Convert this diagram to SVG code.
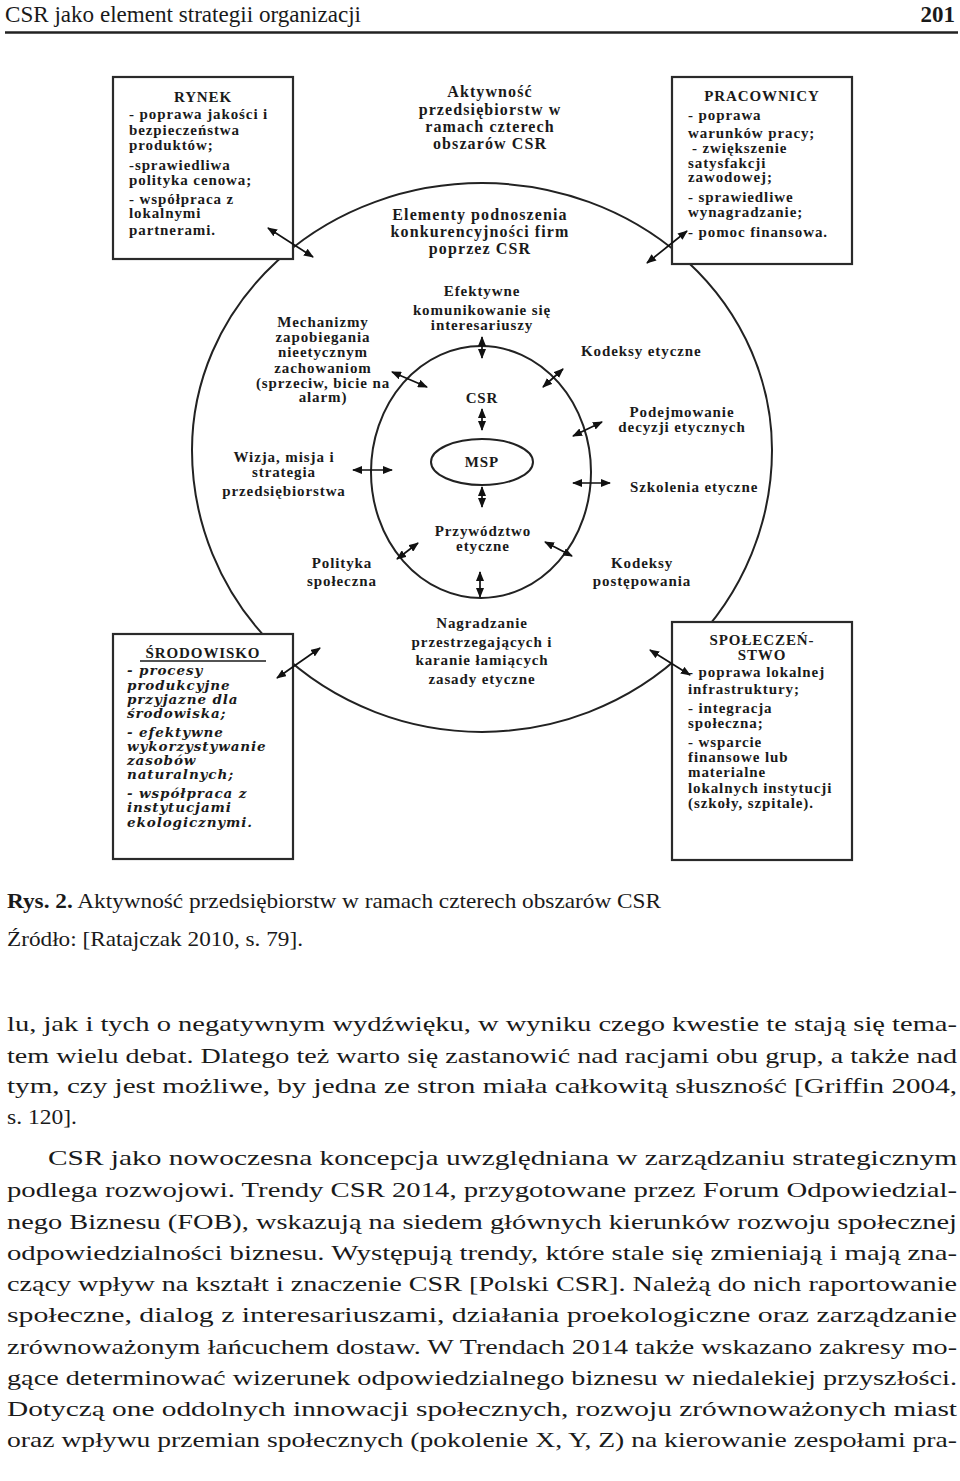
<svg xmlns="http://www.w3.org/2000/svg" width="960" height="1481" viewBox="0 0 960 1481">
<style>
.b{font-family:"Liberation Serif",serif;font-weight:bold;font-size:15px;letter-spacing:0.9px;fill:#1a1a1a}
.h{font-family:"Liberation Serif",serif;font-weight:bold;font-size:16px;letter-spacing:1.1px;fill:#1a1a1a}
.i{font-family:"DejaVu Serif",serif;font-weight:bold;font-style:italic;font-size:13.5px;letter-spacing:0.9px;fill:#1a1a1a}
.m{text-anchor:middle}
.box{fill:#fff;stroke:#2a2a2a;stroke-width:2.2}
.ring{fill:none;stroke:#222;stroke-width:2}
.arr{stroke:#111;stroke-width:1.7;fill:none;marker-start:url(#ah);marker-end:url(#ah)}
.body{font-family:"Liberation Serif",serif;font-size:22px;fill:#1a1a1a}
</style>
<defs>
<marker id="ah" viewBox="0 0 10 8" refX="9" refY="4" markerWidth="10" markerHeight="8" markerUnits="userSpaceOnUse" orient="auto-start-reverse">
<path d="M0,0 L10,4 L0,8 z" fill="#111"/>
</marker>
</defs>
<rect width="960" height="1481" fill="#fff"/>

<g id="header">
<text x="5" y="22" font-family="Liberation Serif, serif" font-size="23" fill="#1a1a1a" textLength="356" lengthAdjust="spacingAndGlyphs">CSR jako element strategii organizacji</text>
<text x="955" y="22" font-family="Liberation Serif, serif" font-size="23" font-weight="bold" text-anchor="end" fill="#1a1a1a">201</text>
<line x1="5" y1="32.5" x2="958" y2="32.5" stroke="#222" stroke-width="2.5"/>
</g>

<g id="rings">
<path class="ring" d="M192,450 A290,267 0 0 1 772,450 A290,282 0 0 1 192,450 Z"/>
<ellipse class="ring" cx="481" cy="472" rx="110" ry="126"/>
<ellipse class="ring" cx="482" cy="462" rx="51" ry="23"/>
</g>

<g id="title">
<text class="h m" x="490" y="97" font-size="17">Aktywność</text>
<text class="h m" x="490" y="115" font-size="17">przedsiębiorstw w</text>
<text class="h m" x="490" y="132" font-size="17">ramach czterech</text>
<text class="h m" x="490" y="149" font-size="17">obszarów CSR</text>
</g>

<g id="elementy">
<text class="h m" x="480" y="220">Elementy podnoszenia</text>
<text class="h m" x="480" y="237">konkurencyjności firm</text>
<text class="h m" x="480" y="254">poprzez CSR</text>
</g>

<g id="rynek">
<rect class="box" x="113" y="77" width="180" height="182"/>
<text class="b m" x="203" y="102">RYNEK</text>
<text class="b" x="129" y="119">- poprawa jakości i</text>
<text class="b" x="129" y="135">bezpieczeństwa</text>
<text class="b" x="129" y="150">produktów;</text>
<text class="b" x="129" y="170">-sprawiedliwa</text>
<text class="b" x="129" y="185">polityka cenowa;</text>
<text class="b" x="129" y="204">- współpraca z</text>
<text class="b" x="129" y="218">lokalnymi</text>
<text class="b" x="129" y="235">partnerami.</text>
</g>

<g id="pracownicy">
<rect class="box" x="672" y="77" width="180" height="187"/>
<text class="b m" x="762" y="101">PRACOWNICY</text>
<text class="b" x="688" y="120">- poprawa</text>
<text class="b" x="688" y="138">warunków pracy;</text>
<text class="b" x="692" y="153">- zwiększenie</text>
<text class="b" x="688" y="168">satysfakcji</text>
<text class="b" x="688" y="182">zawodowej;</text>
<text class="b" x="688" y="202">- sprawiedliwe</text>
<text class="b" x="688" y="217">wynagradzanie;</text>
<text class="b" x="688" y="237">- pomoc finansowa.</text>
</g>

<g id="srodowisko">
<rect class="box" x="113" y="634" width="180" height="225"/>
<text class="b m" x="203" y="658" font-size="15.5" letter-spacing="1.3">ŚRODOWISKO</text>
<line x1="140" y1="661" x2="266" y2="661" stroke="#1a1a1a" stroke-width="1.6"/>
<text class="i" x="127" y="675">- procesy</text>
<text class="i" x="127" y="690">produkcyjne</text>
<text class="i" x="127" y="704">przyjazne dla</text>
<text class="i" x="127" y="718">środowiska;</text>
<text class="i" x="127" y="737">- efektywne</text>
<text class="i" x="127" y="751">wykorzystywanie</text>
<text class="i" x="127" y="765">zasobów</text>
<text class="i" x="127" y="779">naturalnych;</text>
<text class="i" x="127" y="798">- współpraca z</text>
<text class="i" x="127" y="812">instytucjami</text>
<text class="i" x="127" y="827">ekologicznymi.</text>
</g>

<g id="spoleczenstwo">
<rect class="box" x="672" y="622" width="180" height="238"/>
<text class="b m" x="762" y="645">SPOŁECZEŃ-</text>
<text class="b m" x="762" y="660">STWO</text>
<text class="b" x="688" y="677">- poprawa lokalnej</text>
<text class="b" x="688" y="694">infrastruktury;</text>
<text class="b" x="688" y="713">- integracja</text>
<text class="b" x="688" y="728">społeczna;</text>
<text class="b" x="688" y="747">- wsparcie</text>
<text class="b" x="688" y="762">finansowe lub</text>
<text class="b" x="688" y="777">materialne</text>
<text class="b" x="688" y="793">lokalnych instytucji</text>
<text class="b" x="688" y="808">(szkoły, szpitale).</text>
</g>

<g id="efektywne">
<text class="b m" x="482" y="296">Efektywne</text>
<text class="b m" x="482" y="315">komunikowanie się</text>
<text class="b m" x="482" y="330">interesariuszy</text>
</g>
<g id="mechanizmy">
<text class="b m" x="323" y="327">Mechanizmy</text>
<text class="b m" x="323" y="342">zapobiegania</text>
<text class="b m" x="323" y="357">nieetycznym</text>
<text class="b m" x="323" y="373">zachowaniom</text>
<text class="b m" x="323" y="388">(sprzeciw, bicie na</text>
<text class="b m" x="323" y="402">alarm)</text>
</g>
<g id="kodeksy-etyczne"><text class="b" x="581" y="356">Kodeksy etyczne</text></g>
<g id="podejmowanie">
<text class="b m" x="682" y="417">Podejmowanie</text>
<text class="b m" x="682" y="432">decyzji etycznych</text>
</g>
<g id="szkolenia"><text class="b" x="630" y="492">Szkolenia etyczne</text></g>
<g id="csr"><text class="b m" x="482" y="403">CSR</text></g>
<g id="msp"><text class="b m" x="482" y="467">MSP</text></g>
<g id="wizja">
<text class="b m" x="284" y="462">Wizja, misja i</text>
<text class="b m" x="284" y="477">strategia</text>
<text class="b m" x="284" y="496">przedsiębiorstwa</text>
</g>
<g id="przywodztwo">
<text class="b m" x="483" y="536">Przywództwo</text>
<text class="b m" x="483" y="551">etyczne</text>
</g>
<g id="polityka">
<text class="b m" x="342" y="568">Polityka</text>
<text class="b m" x="342" y="586">społeczna</text>
</g>
<g id="kodeksy-postepowania">
<text class="b m" x="642" y="568">Kodeksy</text>
<text class="b m" x="642" y="586">postępowania</text>
</g>
<g id="nagradzanie">
<text class="b m" x="482" y="628">Nagradzanie</text>
<text class="b m" x="482" y="647">przestrzegających i</text>
<text class="b m" x="482" y="665">karanie łamiących</text>
<text class="b m" x="482" y="684">zasady etyczne</text>
</g>

<g id="connectors">
<line class="arr" x1="268" y1="228" x2="313" y2="257"/>
<line class="arr" x1="647" y1="263" x2="687" y2="231"/>
<line class="arr" x1="277" y1="678" x2="320" y2="648"/>
<line class="arr" x1="650" y1="650" x2="690" y2="675"/>
<line class="arr" x1="482" y1="337" x2="482" y2="358"/>
<line class="arr" x1="392" y1="372" x2="427" y2="387"/>
<line class="arr" x1="563" y1="369" x2="543" y2="387"/>
<line class="arr" x1="573" y1="436" x2="602" y2="422"/>
<line class="arr" x1="573" y1="483" x2="610" y2="483"/>
<line class="arr" x1="353" y1="470" x2="392" y2="470"/>
<line class="arr" x1="482" y1="409" x2="482" y2="430"/>
<line class="arr" x1="482" y1="487" x2="482" y2="507"/>
<line class="arr" x1="397" y1="559" x2="418" y2="543"/>
<line class="arr" x1="572" y1="556" x2="545" y2="542"/>
<line class="arr" x1="480" y1="572" x2="480" y2="597"/>
</g>

<g id="caption">
<text x="7" y="908" font-family="Liberation Serif, serif" font-size="21.5" fill="#1a1a1a" textLength="654" lengthAdjust="spacingAndGlyphs"><tspan font-weight="bold">Rys. 2.</tspan> Aktywność przedsiębiorstw w ramach czterech obszarów CSR</text>
<text x="7" y="946" font-family="Liberation Serif, serif" font-size="21.5" fill="#1a1a1a" textLength="296" lengthAdjust="spacingAndGlyphs">Źródło: [Ratajczak 2010, s. 79].</text>
</g>

<g id="body">
<text class="body" x="7" y="1031" textLength="950" lengthAdjust="spacingAndGlyphs">lu, jak i tych o negatywnym wydźwięku, w wyniku czego kwestie te stają się tema-</text>
<text class="body" x="7" y="1063" textLength="950" lengthAdjust="spacingAndGlyphs">tem wielu debat. Dlatego też warto się zastanowić nad racjami obu grup, a także nad</text>
<text class="body" x="7" y="1093" textLength="950" lengthAdjust="spacingAndGlyphs">tym, czy jest możliwe, by jedna ze stron miała całkowitą słuszność [Griffin 2004,</text>
<text class="body" x="7" y="1124" textLength="70" lengthAdjust="spacingAndGlyphs">s. 120].</text>
<text class="body" x="48" y="1165" textLength="909" lengthAdjust="spacingAndGlyphs">CSR jako nowoczesna koncepcja uwzględniana w zarządzaniu strategicznym</text>
<text class="body" x="7" y="1197" textLength="950" lengthAdjust="spacingAndGlyphs">podlega rozwojowi. Trendy CSR 2014, przygotowane przez Forum Odpowiedzial-</text>
<text class="body" x="7" y="1229" textLength="950" lengthAdjust="spacingAndGlyphs">nego Biznesu (FOB), wskazują na siedem głównych kierunków rozwoju społecznej</text>
<text class="body" x="7" y="1260" textLength="950" lengthAdjust="spacingAndGlyphs">odpowiedzialności biznesu. Występują trendy, które stale się zmieniają i mają zna-</text>
<text class="body" x="7" y="1291" textLength="950" lengthAdjust="spacingAndGlyphs">czący wpływ na kształt i znaczenie CSR [Polski CSR]. Należą do nich raportowanie</text>
<text class="body" x="7" y="1322" textLength="950" lengthAdjust="spacingAndGlyphs">społeczne, dialog z interesariuszami, działania proekologiczne oraz zarządzanie</text>
<text class="body" x="7" y="1354" textLength="950" lengthAdjust="spacingAndGlyphs">zrównoważonym łańcuchem dostaw. W Trendach 2014 także wskazano zakresy mo-</text>
<text class="body" x="7" y="1385" textLength="950" lengthAdjust="spacingAndGlyphs">gące determinować wizerunek odpowiedzialnego biznesu w niedalekiej przyszłości.</text>
<text class="body" x="7" y="1416" textLength="950" lengthAdjust="spacingAndGlyphs">Dotyczą one oddolnych innowacji społecznych, rozwoju zrównoważonych miast</text>
<text class="body" x="7" y="1447" textLength="950" lengthAdjust="spacingAndGlyphs">oraz wpływu przemian społecznych (pokolenie X, Y, Z) na kierowanie zespołami pra-</text>
</g>
</svg>
